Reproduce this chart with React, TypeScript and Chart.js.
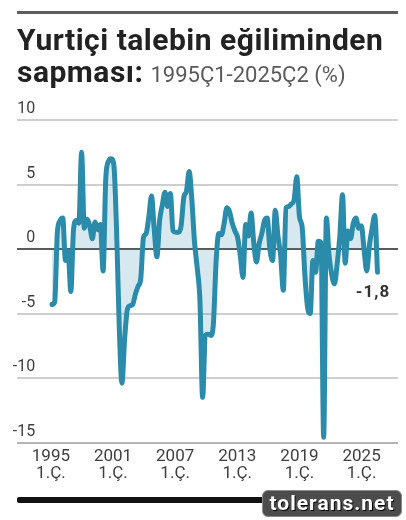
import React, { useEffect, useRef } from 'react';
import { Chart, registerables } from 'chart.js';

Chart.register(...registerables);

// ---- DATA ----
const startYear = 1995;
const values: number[] = [
  -4.3, -4.1, 1.3, 2.2, 2.4, -0.9, -0.2, -3.3, 1.5, 2.2,
  2.0, 7.5, 1.6, 2.3, 1.8, 0.8, 2.1, 1.5, 1.9, -1.7,
  5.5, 6.8, 7.0, 6.5, 1.5, -6.0, -10.4, -7.0, -4.7, -4.4,
  -4.3, -3.5, -2.9, -2.3, 0.9, 1.2, 2.5, 4.1, 1.5, -0.6,
  2.2, 3.4, 4.4, 3.3, 4.3, 1.4, 1.3, 1.3, 1.8, 4.0,
  4.5, 6.0, 3.8, 0.5, -1.5, -4.0, -11.5, -6.7, -6.6, -6.7,
  -5.8, -1.0, 1.2, 1.1, 2.0, 3.2, 2.9, 2.0, 1.4, 0.9,
  -0.5, -2.2, 1.9, 1.0, 2.8, 0.5, -1.0, 0.4, 1.2, 2.2,
  2.4, 0.0, -0.9, 3.0, 1.0, -0.5, -3.2, 3.2, 3.3, 3.5,
  3.8, 5.6, 2.5, 1.7, -2.0, -4.5, -5.0, -0.9, -1.8, 0.6,
  0.5, -14.6, 2.4, -0.5, -2.0, -2.7, -1.2, 1.0, 4.2, -1.1,
  1.4, 0.8, 2.0, 2.4, 1.6, 1.8, 0.0, -1.7, 0.3, 1.6,
  2.6, -1.8,
];
const quarterLabels: string[] = values.map(
  (_, i) => `${startYear + Math.floor(i / 4)}Ç${(i % 4) + 1}`
);
const tickYears = ['1995', '2001', '2007', '2013', '2019', '2025'];
const tickQuarterIdx = [0, 24, 48, 72, 96, 120];
const tickSubLabel = '1.Ç.';
const yTickValues = [-15, -10, -5, 0, 5, 10];
const yMin = -15;
const yMax = 10;
const yStep = 5;

const LABEL_FAMILY = "'Roboto', sans-serif";
const Y_FONT_SIZE = 16;
const Y_LABEL_RIGHT = 38; // right edge of y labels
const PLOT_LEFT = 17;

const lastValuePlugin = {
  id: 'lastValue',
  afterDatasetsDraw(chart: any) {
    const meta = chart.getDatasetMeta(0);
    const pt = meta.data[meta.data.length - 1];
    if (!pt) return;
    const v = values[values.length - 1];
    const txt = v.toFixed(1).replace('.', ',');
    const ctx = chart.ctx;
    ctx.save();
    ctx.font = "bold 17px 'Roboto', sans-serif";
    (ctx as any).letterSpacing = '1px';
    ctx.fillStyle = '#333333';
    ctx.textAlign = 'center';
    ctx.textBaseline = 'middle';
    ctx.fillText(txt, pt.x - 4.5, pt.y + 21);
    ctx.restore();
  },
};

function ChartCanvas() {
  const ref = useRef<HTMLCanvasElement | null>(null);
  useEffect(() => {
    if (!ref.current) return;
    // measure widest y label so that mirrored labels end at Y_LABEL_RIGHT
    const mctx = ref.current.getContext('2d')!;
    mctx.save();
    mctx.font = `${Y_FONT_SIZE}px ${LABEL_FAMILY}`;
    const widest = Math.max(...yTickValues.map((v) => mctx.measureText(String(v)).width));
    mctx.restore();
    const yPad = Y_LABEL_RIGHT - PLOT_LEFT - widest;

    const chart = new Chart(ref.current, {
      type: 'line',
      data: {
        datasets: [
          {
            label: 'Sapma',
            data: values.map((v, i) => ({ x: i, y: v, q: quarterLabels[i] })) as any,
            borderColor: '#2a8bab',
            backgroundColor: 'rgba(43,140,171,0.19)',
            borderWidth: 5,
            fill: 'origin',
            pointRadius: 0,
            cubicInterpolationMode: 'monotone',
            borderJoinStyle: 'round',
            borderCapStyle: 'round',
            xAxisID: 'x',
          },
        ],
      },
      options: {
        responsive: false,
        animation: false,
        layout: { padding: { left: PLOT_LEFT, right: 8, top: 120, bottom: 31.5 } },
        plugins: {
          legend: { display: false },
          tooltip: { enabled: false },
          title: { display: false },
        },
        scales: {
          x: {
            type: 'linear',
            display: false,
            min: -13.01,
            max: 128.63,
          },
          x2: {
            type: 'linear',
            position: 'bottom',
            min: -13.09,
            max: 134.07,
            grid: { display: false, drawTicks: false },
            border: { display: false },
            afterBuildTicks: (scale: any) => {
              scale.ticks = tickQuarterIdx.map((v) => ({ value: v }));
            },
            ticks: {
              autoSkip: false,
              maxRotation: 0,
              minRotation: 0,
              padding: 6,
              color: '#3f3f3f',
              font: { family: LABEL_FAMILY, size: 17, lineHeight: '17px' as any },
              callback: (value: any) => {
                const k = tickQuarterIdx.indexOf(Number(value));
                return k >= 0 ? [tickYears[k], tickSubLabel] : '';
              },
            },
          },
          y: {
            type: 'linear',
            min: yMin,
            max: yMax,
            border: { display: false },
            afterBuildTicks: (scale: any) => {
              scale.ticks = yTickValues.map((v) => ({ value: v }));
            },
            grid: {
              drawTicks: false,
              lineWidth: 2,
              color: (ctx: any) =>
                ctx.tick && ctx.tick.value === 0
                  ? '#5a5a5a'
                  : ctx.tick && ctx.tick.value === yMin
                  ? '#b4b4b4'
                  : '#cfcfcf',
            },
            ticks: {
              stepSize: yStep,
              mirror: true,
              crossAlign: 'far',
              padding: yPad,
              labelOffset: -11,
              color: '#3f3f3f',
              font: { family: LABEL_FAMILY, size: Y_FONT_SIZE },
            },
          },
        },
      } as any,
      plugins: [lastValuePlugin],
    });
    return () => chart.destroy();
  }, []);
  return (
    <canvas
      ref={ref}
      width={406}
      height={520}
      style={{ position: 'absolute', left: 0, top: 0, width: 406, height: 520 }}
    />
  );
}

export default function App() {
  return (
    <div
      style={{
        position: 'absolute',
        left: 0,
        top: 0,
        width: 406,
        height: 520,
        background: '#ffffff',
        overflow: 'hidden',
      }}
    >
      <ChartCanvas />
      <div
        style={{
          position: 'absolute',
          left: 17,
          top: 11,
          width: 381,
          height: 3,
          background: '#5e5e5e',
        }}
      />
      <div
        style={{
          position: 'absolute',
          left: 17,
          top: 24,
          width: 390,
          fontFamily: "'Roboto', sans-serif",
          lineHeight: '32px',
          color: '#222222',
          whiteSpace: 'nowrap',
        }}
      >
        <div style={{ fontSize: 30, fontWeight: 700, letterSpacing: 0.5 }}>
          Yurtiçi talebin eğiliminden
        </div>
        <div>
          <span style={{ fontSize: 30, fontWeight: 700, letterSpacing: 0.5 }}>sapması:</span>
          <span style={{ fontSize: 22, fontWeight: 400, color: '#5a5a5a', marginLeft: 7 }}>
            1995Ç1-2025Ç2 (%)
          </span>
        </div>
      </div>
      <div
        style={{
          position: 'absolute',
          left: 17,
          top: 497,
          width: 381,
          height: 6,
          borderRadius: 2,
          background: '#121212',
        }}
      />
      <div
        style={{
          position: 'absolute',
          left: 262,
          top: 490,
          width: 138,
          height: 25,
          borderRadius: 6,
          background: '#4c4c4c',
          border: '1px solid #8a8a8a',
          color: '#ffffff',
          fontFamily: "'Roboto', sans-serif",
          fontWeight: 700,
          fontSize: 21,
          letterSpacing: 1,
          lineHeight: '25px',
          textAlign: 'center',
          textShadow: '1px 1px 0 #000',
        }}
      >
        tolerans.net
      </div>
    </div>
  );
}
